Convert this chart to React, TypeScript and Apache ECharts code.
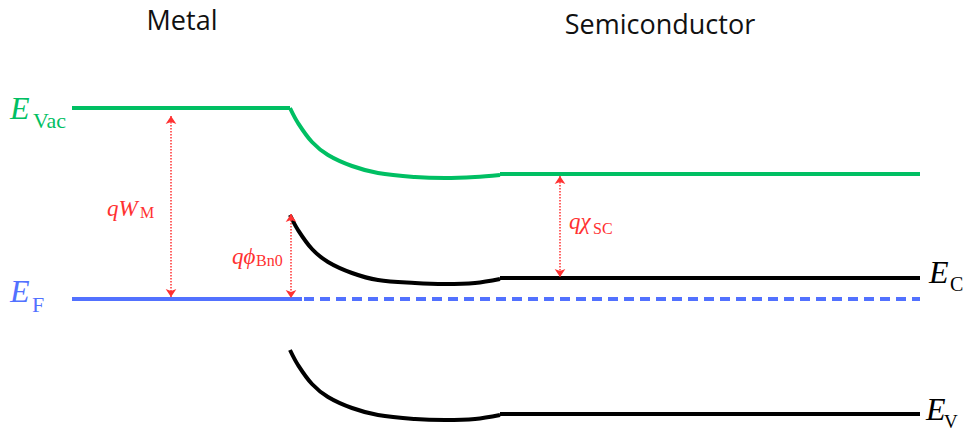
import React, { useEffect, useRef } from "react";
import * as echarts from "echarts";

// Position (x, relative to the metal/semiconductor interface) and energy (y, relative to E_F)
const xMetal = [-218, 0];
const vacMetal = [191, 191];
const xCurve = [0, 8, 22, 38, 62, 88, 125, 155, 185, 210];
const vacCurve = [191, 176, 157, 144, 133, 126, 122, 121, 122, 124];
const ecCurve = [84, 69, 50, 37, 26, 19, 16, 15, 16, 20];
const evCurve = [-51, -66, -85, -98, -109, -116, -120, -121, -120, -116];
const xFlat = [210, 630];
const vacFlat = [125, 125];
const ecFlat = [21, 21];
const evFlat = [-115, -115];
const xFermiSolid = [-218, 12];
const xFermiDashed = [14, 630];
const fermi = [0, 0];

// Annotation arrows: [x, yFrom, yTo]
const arrowWM = [-119, 183, 2];
const arrowPhi = [1, 85, 1];
const arrowChi = [270, 123, 22];

const GREEN = "#00BF63";
const BLUE = "#5271FF";
const RED = "#FF3131";
const BLACK = "#000000";

const pairs = (xs: number[], ys: number[]) => xs.map((x, i) => [x, ys[i]]);

const serifI = (size: number) => `italic ${size}px "Liberation Serif", "DejaVu Serif", serif`;
const serifR = (size: number) => `${size}px "Liberation Serif", "DejaVu Serif", serif`;

function txt(text: string, x: number, y: number, font: string, fill: string) {
  return {
    type: "text",
    x,
    y,
    silent: true,
    style: {
      text,
      font,
      fill,
      textAlign: "left",
      textVerticalAlign: "middle",
      align: "left",
      verticalAlign: "middle",
    },
  };
}

export default function App() {
  const ref = useRef<HTMLDivElement>(null);
  useEffect(() => {
    if (!ref.current) return;
    const chart = echarts.init(ref.current, undefined, { renderer: "svg" });
    const band = (name: string, data: number[][], color: string, smooth: boolean | number = false, dashed = false) => ({
      name,
      type: "line",
      data,
      smooth,
      symbol: "none",
      silent: true,
      lineStyle: { color, width: 4, type: dashed ? [10, 6] : "solid", cap: "butt", join: "round" },
    });
    const arrow = (a: number[]) => [
      { coord: [a[0], a[1]] },
      { coord: [a[0], a[2]] },
    ];
    chart.setOption({
      animation: false,
      grid: { left: 0, right: 0, top: 0, bottom: 0 },
      xAxis: { type: "value", min: -290, max: 678, show: false },
      yAxis: { type: "value", min: -131, max: 299, show: false },
      series: [
        band("vacMetal", pairs(xMetal, vacMetal), GREEN),
        band("vacCurve", pairs(xCurve, vacCurve), GREEN, 0.35),
        band("vacFlat", pairs(xFlat, vacFlat), GREEN),
        band("ecCurve", pairs(xCurve, ecCurve), BLACK, 0.35),
        band("ecFlat", pairs(xFlat, ecFlat), BLACK),
        band("evCurve", pairs(xCurve, evCurve), BLACK, 0.35),
        band("evFlat", pairs(xFlat, evFlat), BLACK),
        band("efSolid", pairs(xFermiSolid, fermi), BLUE),
        {
          ...band("efDashed", pairs(xFermiDashed, fermi), BLUE, false, true),
          markLine: {
            silent: true,
            symbol: ["arrow", "arrow"],
            symbolSize: 8,
            label: { show: false },
            lineStyle: { color: RED, width: 1.5, type: "dotted" },
            data: [arrow(arrowWM), arrow(arrowPhi), arrow(arrowChi)],
          },
        },
      ],
      graphic: [
        {
          type: "text",
          x: 182,
          y: 19,
          silent: true,
          style: { text: "Metal", font: '27px "Open Sans", sans-serif', fill: "#111111", textAlign: "center", align: "center", textVerticalAlign: "middle", verticalAlign: "middle" },
        },
        {
          type: "text",
          x: 660,
          y: 23,
          silent: true,
          style: { text: "Semiconductor", font: '27px "Open Sans", sans-serif', fill: "#111111", textAlign: "center", align: "center", textVerticalAlign: "middle", verticalAlign: "middle" },
        },
        txt("E", 10, 108, serifI(32), GREEN),
        txt("Vac", 33, 120, serifR(22), GREEN),
        txt("E", 10, 291, serifI(32), BLUE),
        txt("F", 32, 304, serifR(22), BLUE),
        txt("E", 929, 272, serifI(32), BLACK),
        txt("C", 950, 284, serifR(20), BLACK),
        txt("E", 926, 409, serifI(32), BLACK),
        txt("V", 944, 421, serifR(19), BLACK),
        txt("qW", 107, 208, serifI(23), RED),
        txt("M", 140, 212, serifR(16), RED),
        txt("qϕ", 232, 256, serifI(23), RED),
        txt("Bn0", 256, 260, serifR(16), RED),
        txt("qχ", 569, 221, serifI(23), RED),
        txt("SC", 593, 228, serifR(16), RED),
      ],
    });
    return () => chart.dispose();
  }, []);
  return (
    <div
      ref={ref}
      style={{ position: "fixed", left: 0, top: 0, width: 968, height: 430, background: "#ffffff" }}
    />
  );
}
